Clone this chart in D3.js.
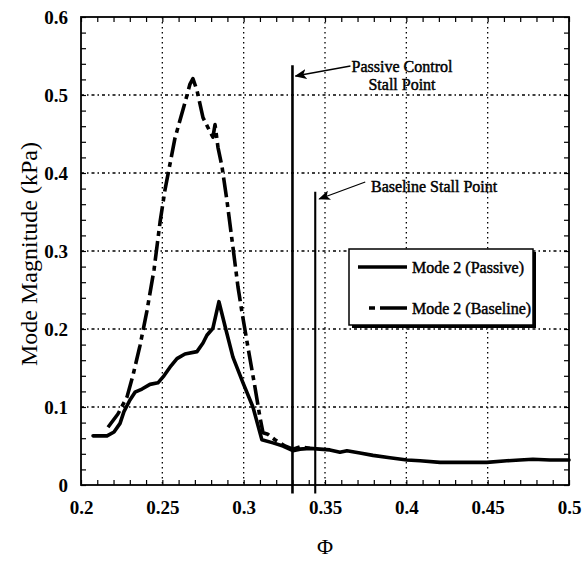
<!DOCTYPE html>
<html>
<head>
<meta charset="utf-8">
<script src="https://cdn.jsdelivr.net/npm/d3@7/dist/d3.min.js"></script>
<style>
  body { margin: 0; background: #fff; }
  svg { display: block; }
  text { font-family: "Liberation Serif", "Times New Roman", serif; fill: #000; }
</style>
</head>
<body>
<svg id="chart" width="582" height="564"></svg>
<script>
// Mode 2 magnitude vs flow coefficient, passive control run
const passivePhi = [0.2074, 0.216, 0.2203, 0.224, 0.2264, 0.2301, 0.2332, 0.2375, 0.2424, 0.2473,
  0.251, 0.2547, 0.259, 0.2639, 0.2713, 0.275, 0.2774, 0.2811, 0.2848, 0.2891, 0.2934, 0.2996,
  0.3057, 0.3112, 0.318, 0.3242, 0.3303, 0.3346, 0.3407, 0.3469, 0.353, 0.3592, 0.3635, 0.3715,
  0.3795, 0.3899, 0.4004, 0.4084, 0.4207, 0.4495, 0.4618, 0.4698, 0.4778, 0.4883, 0.5];
const passiveMag = [0.063, 0.063, 0.068, 0.079, 0.094, 0.109, 0.119, 0.123, 0.129, 0.131,
  0.140, 0.151, 0.162, 0.168, 0.171, 0.182, 0.192, 0.201, 0.235, 0.199, 0.164, 0.131,
  0.100, 0.058, 0.054, 0.050, 0.044, 0.046, 0.047, 0.046, 0.045, 0.042, 0.044, 0.041,
  0.038, 0.035, 0.032, 0.031, 0.029, 0.029, 0.031, 0.032, 0.033, 0.032, 0.032];

// Mode 2 magnitude vs flow coefficient, baseline run
const baselinePhi = [0.2166, 0.2227, 0.2283, 0.232, 0.2363, 0.2406, 0.2449, 0.2486, 0.2516, 0.2578,
  0.2639, 0.267, 0.2688, 0.2713, 0.275, 0.2793, 0.2811, 0.2824, 0.2842, 0.2867, 0.2897, 0.2934,
  0.2965, 0.299, 0.3026, 0.3069, 0.31, 0.3119, 0.3149, 0.3192, 0.3254, 0.3303, 0.3346, 0.3438];
const baselineMag = [0.074, 0.091, 0.113, 0.141, 0.179, 0.224, 0.276, 0.337, 0.378, 0.445,
  0.490, 0.514, 0.521, 0.506, 0.471, 0.453, 0.446, 0.462, 0.433, 0.408, 0.365, 0.305,
  0.254, 0.221, 0.177, 0.126, 0.087, 0.067, 0.065, 0.058, 0.050, 0.046, 0.049, 0.046];

// Stall points (flow coefficient) and the height of each marker line
const stallPhi = [0.33, 0.344];
const stallTop = [0.538, 0.376];
const stallNames = ["Passive Control", "Baseline"];

const xTickValues = [0.2, 0.25, 0.3, 0.35, 0.4, 0.45, 0.5];
const xTickLabels = ["0.2", "0.25", "0.3", "0.35", "0.4", "0.45", "0.5"];
const yTickValues = [0, 0.1, 0.2, 0.3, 0.4, 0.5, 0.6];
const yTickLabels = ["0", "0.1", "0.2", "0.3", "0.4", "0.5", "0.6"];

const legendLabels = ["Mode 2 (Passive)", "Mode 2 (Baseline)"];

const svg = d3.select("#chart");
const plotL = 81, plotR = 569, plotT = 17, plotB = 485;

const x = d3.scaleLinear().domain([0.2, 0.5]).range([plotL, plotR]);
const y = d3.scaleLinear().domain([0, 0.6]).range([plotB, plotT]);

const dashPattern = "20,5,5,5";

// Dotted grid
const grid = svg.append("g");
grid.selectAll("line.gx").data(xTickValues.slice(1, -1)).join("line")
  .attr("x1", d => x(d)).attr("x2", d => x(d))
  .attr("y1", plotT).attr("y2", plotB)
  .attr("stroke", "#000").attr("stroke-width", 1.3).attr("stroke-dasharray", "1.5,3.5");
grid.selectAll("line.gy").data(yTickValues.slice(1, -1)).join("line")
  .attr("y1", d => y(d)).attr("y2", d => y(d))
  .attr("x1", plotL).attr("x2", plotR)
  .attr("stroke", "#000").attr("stroke-width", 1.3).attr("stroke-dasharray", "3,3,1.5,3");

// Minor ticks on all four sides, pointing inward
const xMinor = d3.range(0, 31).map(i => 0.2 + i * 0.01);
const yMinor = d3.range(0, 31).map(i => i * 0.02);
function tickAxis(g) {
  g.select(".domain").remove();
  g.selectAll(".tick line").attr("stroke", "#000").attr("stroke-width", 1.2);
}
svg.append("g").attr("transform", `translate(0,${plotB})`)
  .call(d3.axisBottom(x).tickValues(xMinor).tickSize(-5).tickFormat("")).call(tickAxis);
svg.append("g").attr("transform", `translate(0,${plotT})`)
  .call(d3.axisTop(x).tickValues(xMinor).tickSize(-5).tickFormat("")).call(tickAxis);
svg.append("g").attr("transform", `translate(${plotL},0)`)
  .call(d3.axisLeft(y).tickValues(yMinor).tickSize(-5).tickFormat("")).call(tickAxis);
svg.append("g").attr("transform", `translate(${plotR},0)`)
  .call(d3.axisRight(y).tickValues(yMinor).tickSize(-5).tickFormat("")).call(tickAxis);

// Frame
svg.append("rect").attr("x", plotL).attr("y", plotT)
  .attr("width", plotR - plotL).attr("height", plotB - plotT)
  .attr("fill", "none").attr("stroke", "#000").attr("stroke-width", 1.8);

// Tick labels
const xLab = svg.append("g").attr("transform", `translate(0,${plotB})`)
  .call(d3.axisBottom(x).tickValues(xTickValues).tickSize(0).tickPadding(0)
    .tickFormat((d, i) => xTickLabels[i]));
xLab.select(".domain").remove();
xLab.selectAll("text").attr("y", 29).attr("dy", 0)
  .style("font-family", "'Liberation Serif', serif").style("font-size", "19px").style("font-weight", "bold");

const yLab = svg.append("g").attr("transform", `translate(${plotL},0)`)
  .call(d3.axisLeft(y).tickValues(yTickValues).tickSize(0).tickPadding(13)
    .tickFormat((d, i) => yTickLabels[i]));
yLab.select(".domain").remove();
yLab.selectAll("text").attr("dy", "0.35em")
  .style("font-family", "'Liberation Serif', serif").style("font-size", "19px").style("font-weight", "bold");

// Axis titles
svg.append("text").attr("x", (plotL + plotR) / 2).attr("y", 554)
  .attr("text-anchor", "middle").style("font-size", "22px").text("Φ");
svg.append("text")
  .attr("transform", `translate(37,${(plotT + plotB) / 2 + 3}) rotate(-90)`)
  .attr("text-anchor", "middle").style("font-size", "24px").text("Mode Magnitude (kPa)");

// Curves
const line = d3.line().x(d => x(d[0])).y(d => y(d[1])).curve(d3.curveLinear);
const passiveData = passivePhi.map((p, i) => [p, passiveMag[i]]);
const baselineData = baselinePhi.map((p, i) => [p, baselineMag[i]]);

svg.append("path").datum(baselineData).attr("d", line)
  .attr("fill", "none").attr("stroke", "#000").attr("stroke-width", 3.6)
  .attr("stroke-dasharray", dashPattern).attr("stroke-linejoin", "round");
svg.append("path").datum(passiveData).attr("d", line)
  .attr("fill", "none").attr("stroke", "#000").attr("stroke-width", 3.6)
  .attr("stroke-linejoin", "round").attr("stroke-linecap", "round");

// Stall point markers
svg.selectAll("line.stall").data(stallPhi).join("line")
  .attr("x1", d => x(d)).attr("x2", d => x(d))
  .attr("y1", (d, i) => y(stallTop[i])).attr("y2", y(-0.011))
  .attr("stroke", "#000").attr("stroke-width", (d, i) => i === 0 ? 2.6 : 2.1);

// Annotation arrows
svg.append("defs").append("marker")
  .attr("id", "arrowhead").attr("viewBox", "0 0 12 10")
  .attr("refX", 11).attr("refY", 5).attr("markerWidth", 12).attr("markerHeight", 10)
  .attr("markerUnits", "userSpaceOnUse").attr("orient", "auto")
  .append("path").attr("d", "M0,0 L12,5 L0,10 L3,5 Z").attr("fill", "#000");

const arrows = [
  { x1: x(stallPhi[0]) + 58, y1: 66, x2: x(stallPhi[0]) + 3, y2: 76 },
  { x1: x(stallPhi[1]) + 50, y1: 182, x2: x(stallPhi[1]) + 4, y2: 199 }
];
svg.selectAll("line.arrow").data(arrows).join("line")
  .attr("x1", d => d.x1).attr("y1", d => d.y1).attr("x2", d => d.x2).attr("y2", d => d.y2)
  .attr("stroke", "#000").attr("stroke-width", 1.3).attr("marker-end", "url(#arrowhead)");

const annoStyle = sel => sel.style("font-size", "16px").style("stroke", "#000").style("stroke-width", "0.45px");
svg.append("text").attr("x", 402).attr("y", 72).attr("text-anchor", "middle")
  .call(annoStyle).text(stallNames[0]);
svg.append("text").attr("x", 402).attr("y", 90).attr("text-anchor", "middle")
  .call(annoStyle).text("Stall Point");
svg.append("text").attr("x", 371).attr("y", 192)
  .call(annoStyle).text(stallNames[1] + " Stall Point");

// Legend with drop shadow
const lg = svg.append("g").attr("transform", "translate(349,249)");
lg.append("rect").attr("x", 3).attr("y", 3).attr("width", 184).attr("height", 76).attr("fill", "#000");
lg.append("rect").attr("x", 0).attr("y", 0).attr("width", 184).attr("height", 76)
  .attr("fill", "#fff").attr("stroke", "#000").attr("stroke-width", 1.5);
lg.append("line").attr("x1", 9).attr("x2", 58).attr("y1", 18).attr("y2", 18)
  .attr("stroke", "#000").attr("stroke-width", 3.6);
lg.append("line").attr("x1", 20).attr("x2", 58).attr("y1", 59).attr("y2", 59)
  .attr("stroke", "#000").attr("stroke-width", 3.6).attr("stroke-dasharray", "6,5,27");
lg.selectAll("text").data(legendLabels).join("text")
  .attr("x", 63).attr("y", (d, i) => i === 0 ? 24 : 65)
  .call(annoStyle).text(d => d);
</script>
</body>
</html>
